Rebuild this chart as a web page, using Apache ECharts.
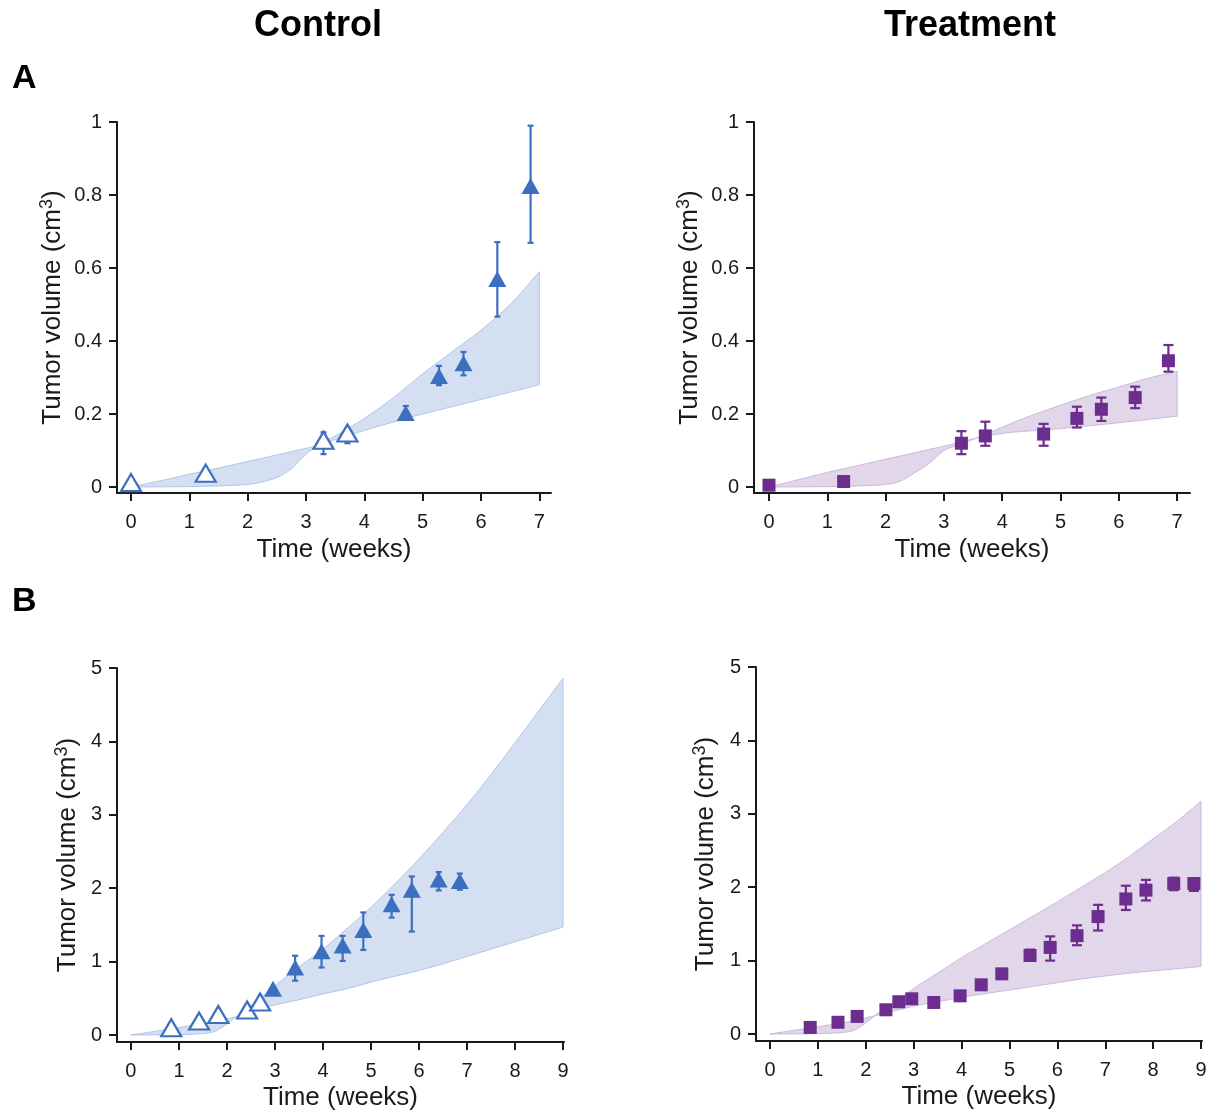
<!DOCTYPE html>
<html>
<head>
<meta charset="utf-8">
<script src="https://cdn.jsdelivr.net/npm/echarts@6/dist/echarts.min.js"></script>
<style>
  html, body { margin: 0; padding: 0; background: #fff; }
  #main { width: 1220px; height: 1112px; }
</style>
</head>
<body>
<div id="main"></div>
<script>
// time points (weeks)
const weeksA = [0, 1.28, 3.30, 3.71, 4.71, 5.28, 5.70, 6.28, 6.85];
const weeksB = [0.84, 1.42, 1.82, 2.42, 2.69, 2.96, 3.42, 3.97, 4.41, 4.84, 5.43, 5.85, 6.41, 6.85, 7.43, 7.85, 8.43, 8.85];

// A - control (first 4 hollow)
const ctrlA = [0.012, 0.038, 0.128, 0.148, 0.203, 0.304, 0.339, 0.570, 0.825];
const ctrlALo = [0.012, 0.038, 0.090, 0.120, 0.185, 0.279, 0.306, 0.467, 0.669];
const ctrlAHi = [0.012, 0.038, 0.150, 0.160, 0.222, 0.332, 0.370, 0.671, 0.990];
const ctrlAOpen = 4;

// A - treatment
const trtA = [0.005, 0.015, 0.120, 0.140, 0.145, 0.188, 0.213, 0.245, 0.346];
const trtALo = [0.005, 0.015, 0.090, 0.113, 0.113, 0.163, 0.181, 0.216, 0.316];
const trtAHi = [0.005, 0.015, 0.153, 0.179, 0.173, 0.220, 0.245, 0.275, 0.389];

// B - control (first 5 hollow)
const ctrlB = [0.10, 0.19, 0.28, 0.34, 0.45, 0.63, 0.92, 1.14, 1.22, 1.43, 1.78, 1.98, 2.12, 2.10];
const ctrlBLo = [0.10, 0.19, 0.28, 0.34, 0.45, 0.63, 0.74, 0.92, 1.01, 1.16, 1.60, 1.41, 1.97, 1.98];
const ctrlBHi = [0.10, 0.19, 0.28, 0.34, 0.45, 0.63, 1.08, 1.35, 1.35, 1.67, 1.91, 2.16, 2.22, 2.20];
const ctrlBOpen = 5;

// B - treatment
const trtB = [0.09, 0.16, 0.24, 0.33, 0.44, 0.48, 0.43, 0.52, 0.67, 0.82, 1.07, 1.18, 1.34, 1.60, 1.84, 1.96, 2.05, 2.05];
const trtBLo = [0.09, 0.16, 0.24, 0.33, 0.44, 0.48, 0.43, 0.52, 0.67, 0.76, 1.00, 1.00, 1.21, 1.41, 1.69, 1.82, 1.96, 1.95];
const trtBHi = [0.09, 0.16, 0.24, 0.33, 0.44, 0.48, 0.43, 0.52, 0.67, 0.88, 1.15, 1.33, 1.48, 1.76, 2.02, 2.10, 2.13, 2.12];

// model prediction bands (two bounding curves, they cross)
const bandWeeksA = [0, 0.5, 1, 1.5, 2, 2.25, 2.5, 2.75, 3, 3.25, 3.5, 4, 4.5, 5, 5.5, 6, 6.5, 7];
const ctrlABandLin = [0, 0.017, 0.035, 0.052, 0.07, 0.079, 0.088, 0.097, 0.106, 0.116, 0.13, 0.155, 0.178, 0.2, 0.22, 0.24, 0.26, 0.28];
const ctrlABandExp = [0, 0.0005, 0.001, 0.003, 0.007, 0.014, 0.026, 0.05, 0.09, 0.118, 0.14, 0.188, 0.245, 0.31, 0.37, 0.43, 0.5, 0.59];
const trtABandLin = [0, 0.02, 0.04, 0.058, 0.076, 0.085, 0.094, 0.103, 0.112, 0.122, 0.132, 0.147, 0.154, 0.16, 0.168, 0.176, 0.185, 0.194];
const trtABandExp = [0, 0.0005, 0.001, 0.003, 0.007, 0.016, 0.039, 0.065, 0.1, 0.115, 0.13, 0.164, 0.196, 0.224, 0.251, 0.274, 0.298, 0.317];

const bandWeeksB = [0, 0.5, 1, 1.5, 1.75, 2, 2.25, 2.5, 3, 3.5, 4, 4.5, 5, 5.5, 6, 6.5, 7, 7.5, 8, 8.5, 9];
const ctrlBBandLin = [0, 0.05, 0.1, 0.16, 0.19, 0.22, 0.26, 0.33, 0.41, 0.48, 0.56, 0.63, 0.72, 0.8, 0.88, 0.97, 1.07, 1.17, 1.27, 1.37, 1.47];
const ctrlBBandExp = [0, 0.002, 0.005, 0.02, 0.05, 0.15, 0.28, 0.4, 0.67, 0.93, 1.17, 1.45, 1.74, 2.06, 2.4, 2.76, 3.14, 3.55, 3.98, 4.42, 4.86];
const trtBBandLin = [0, 0.05, 0.1, 0.15, 0.18, 0.22, 0.26, 0.3, 0.38, 0.44, 0.5, 0.55, 0.6, 0.65, 0.7, 0.75, 0.79, 0.83, 0.86, 0.89, 0.92];
const trtBBandExp = [0, 0.002, 0.005, 0.02, 0.05, 0.15, 0.28, 0.38, 0.62, 0.83, 1.04, 1.23, 1.42, 1.61, 1.8, 2.0, 2.2, 2.42, 2.66, 2.9, 3.17];

const ticksXA = [0, 1, 2, 3, 4, 5, 6, 7];
const ticksXB = [0, 1, 2, 3, 4, 5, 6, 7, 8, 9];
const ticksYA = [0, 0.2, 0.4, 0.6, 0.8, 1];
const ticksYB = [0, 1, 2, 3, 4, 5];

const BLUE = '#3d6fbf';
const PURPLE = '#6c2d8e';
const FONT = '"Liberation Sans", Arial, Helvetica, sans-serif';
const INK = '#1a1a1a';

const myChart = echarts.init(document.getElementById('main'));

function xAxisOf(idx, min, max, ticks, gap) {
    return {
        type: 'value', gridIndex: idx, min: min, max: max,
        axisLine: {show: true, onZero: false, lineStyle: {color: INK, width: 2}},
        axisTick: {show: true, length: 8, customValues: ticks, lineStyle: {color: INK, width: 2}},
        axisLabel: {customValues: ticks, fontSize: 20, color: INK, margin: 19, fontFamily: FONT},
        splitLine: {show: false},
        name: 'Time (weeks)', nameLocation: 'middle', nameGap: gap,
        nameTextStyle: {fontSize: 26, color: INK, fontFamily: FONT}
    };
}

function yAxisOf(idx, min, max, ticks, gap) {
    return {
        type: 'value', gridIndex: idx, min: min, max: max,
        axisLine: {show: true, onZero: false, lineStyle: {color: INK, width: 2}},
        axisTick: {show: true, length: 8, customValues: ticks, lineStyle: {color: INK, width: 2}},
        axisLabel: {customValues: ticks, fontSize: 20, color: INK, margin: 15, fontFamily: FONT,
            formatter: v => String(+(+v).toFixed(1))},
        splitLine: {show: false},
        name: '{a|Tumor volume (cm}{s|3}{a|)}', nameLocation: 'middle', nameGap: gap,
        nameTextStyle: {
            color: INK, fontFamily: FONT,
            rich: {
                a: {fontSize: 26, lineHeight: 30, color: INK, fontFamily: FONT},
                s: {fontSize: 18, lineHeight: 30, verticalAlign: 'top', color: INK, fontFamily: FONT}
            }
        }
    };
}

// filled (smoothed) polygon between two curves; corners kept sharp by doubling end points
function bandSeries(idx, weeks, lin, exp, fill, stroke) {
    return {
        type: 'custom', xAxisIndex: idx, yAxisIndex: idx, silent: true, z: 1,
        data: [0],
        renderItem: function (params, api) {
            const pts = [];
            const n = weeks.length;
            for (let i = 0; i < n; i++) pts.push(api.coord([weeks[i], lin[i]]));
            pts.push(api.coord([weeks[n - 1], lin[n - 1]]));
            pts.push(api.coord([weeks[n - 1], exp[n - 1]]));
            for (let i = n - 1; i >= 0; i--) pts.push(api.coord([weeks[i], exp[i]]));
            return {
                type: 'polygon',
                shape: {points: pts, smooth: 0.35},
                style: {fill: fill, stroke: stroke, lineWidth: 1}
            };
        }
    };
}

function errSeries(idx, weeks, lo, hi, color, cap) {
    const data = weeks.map((w, i) => [w, lo[i], hi[i]]).filter(d => d[2] - d[1] > 0.0001);
    return {
        type: 'custom', xAxisIndex: idx, yAxisIndex: idx, silent: true, z: 2,
        data: data,
        renderItem: function (params, api) {
            const p0 = api.coord([api.value(0), api.value(1)]);
            const p1 = api.coord([api.value(0), api.value(2)]);
            const st = {stroke: color, lineWidth: 2.2};
            return {
                type: 'group', children: [
                    {type: 'line', shape: {x1: p0[0], y1: p0[1], x2: p1[0], y2: p1[1]}, style: st},
                    {type: 'line', shape: {x1: p0[0] - cap, y1: p0[1], x2: p0[0] + cap, y2: p0[1]}, style: st},
                    {type: 'line', shape: {x1: p1[0] - cap, y1: p1[1], x2: p1[0] + cap, y2: p1[1]}, style: st}
                ]
            };
        }
    };
}

function pts(weeks, vals, from, to) {
    const out = [];
    for (let i = from; i < to; i++) out.push([weeks[i], vals[i]]);
    return out;
}

const BLUE_FILL = 'rgba(205,218,238,0.85)';
const BLUE_EDGE = 'rgba(172,194,228,0.9)';
const PURP_FILL = 'rgba(222,209,232,0.9)';
const PURP_EDGE = 'rgba(200,178,218,0.9)';

const option = {
    animation: false,
    backgroundColor: '#fff',
    textStyle: {fontFamily: FONT},
    grid: [
        {left: 117, top: 122, width: 434, height: 371},
        {left: 754, top: 122, width: 436, height: 371},
        {left: 117, top: 668, width: 447, height: 375},
        {left: 756, top: 667, width: 446, height: 374}
    ],
    xAxis: [
        xAxisOf(0, -0.24, 7.2, ticksXA, 44),
        xAxisOf(1, -0.257, 7.22, ticksXA, 44),
        xAxisOf(2, -0.29, 9.02, ticksXB, 43),
        xAxisOf(3, -0.292, 9.02, ticksXB, 43)
    ],
    yAxis: [
        yAxisOf(0, -0.0164, 1, ticksYA, 49),
        yAxisOf(1, -0.0164, 1, ticksYA, 49),
        yAxisOf(2, -0.095, 5, ticksYB, 34),
        yAxisOf(3, -0.095, 5, ticksYB, 35)
    ],
    graphic: [
        {type: 'text', x: 318, y: 26, style: {text: 'Control', align: 'center', verticalAlign: 'middle', font: 'bold 36px ' + FONT, fill: '#000'}},
        {type: 'text', x: 970, y: 26, style: {text: 'Treatment', align: 'center', verticalAlign: 'middle', font: 'bold 36px ' + FONT, fill: '#000'}},
        {type: 'text', x: 12, y: 79, style: {text: 'A', align: 'left', verticalAlign: 'middle', font: 'bold 34px ' + FONT, fill: '#000'}},
        {type: 'text', x: 12, y: 602, style: {text: 'B', align: 'left', verticalAlign: 'middle', font: 'bold 34px ' + FONT, fill: '#000'}}
    ],
    series: [
        bandSeries(0, bandWeeksA, ctrlABandLin, ctrlABandExp, BLUE_FILL, BLUE_EDGE),
        bandSeries(1, bandWeeksA, trtABandLin, trtABandExp, PURP_FILL, PURP_EDGE),
        bandSeries(2, bandWeeksB, ctrlBBandLin, ctrlBBandExp, BLUE_FILL, BLUE_EDGE),
        bandSeries(3, bandWeeksB, trtBBandLin, trtBBandExp, PURP_FILL, PURP_EDGE),

        errSeries(0, weeksA, ctrlALo, ctrlAHi, BLUE, 3),
        errSeries(1, weeksA, trtALo, trtAHi, PURPLE, 5),
        errSeries(2, weeksB, ctrlBLo, ctrlBHi, BLUE, 3),
        errSeries(3, weeksB, trtBLo, trtBHi, PURPLE, 5),

        {type: 'scatter', xAxisIndex: 0, yAxisIndex: 0, z: 3, symbol: 'triangle', symbolSize: [20, 17],
            itemStyle: {color: '#fff', borderColor: BLUE, borderWidth: 2.2, opacity: 1},
            data: pts(weeksA, ctrlA, 0, ctrlAOpen)},
        {type: 'scatter', xAxisIndex: 0, yAxisIndex: 0, z: 3, symbol: 'triangle', symbolSize: [18, 16],
            itemStyle: {color: BLUE, opacity: 1},
            data: pts(weeksA, ctrlA, ctrlAOpen, weeksA.length)},
        {type: 'scatter', xAxisIndex: 1, yAxisIndex: 1, z: 3, symbol: 'rect', symbolSize: 13,
            itemStyle: {color: PURPLE, opacity: 1},
            data: pts(weeksA, trtA, 0, weeksA.length)},
        {type: 'scatter', xAxisIndex: 2, yAxisIndex: 2, z: 3, symbol: 'triangle', symbolSize: [20, 17],
            itemStyle: {color: '#fff', borderColor: BLUE, borderWidth: 2.2, opacity: 1},
            data: pts(weeksB, ctrlB, 0, ctrlBOpen)},
        {type: 'scatter', xAxisIndex: 2, yAxisIndex: 2, z: 3, symbol: 'triangle', symbolSize: [18, 16],
            itemStyle: {color: BLUE, opacity: 1},
            data: pts(weeksB, ctrlB, ctrlBOpen, ctrlB.length)},
        {type: 'scatter', xAxisIndex: 3, yAxisIndex: 3, z: 3, symbol: 'rect', symbolSize: 13,
            itemStyle: {color: PURPLE, opacity: 1},
            data: pts(weeksB, trtB, 0, trtB.length)}
    ]
};

myChart.setOption(option);
</script>
</body>
</html>
